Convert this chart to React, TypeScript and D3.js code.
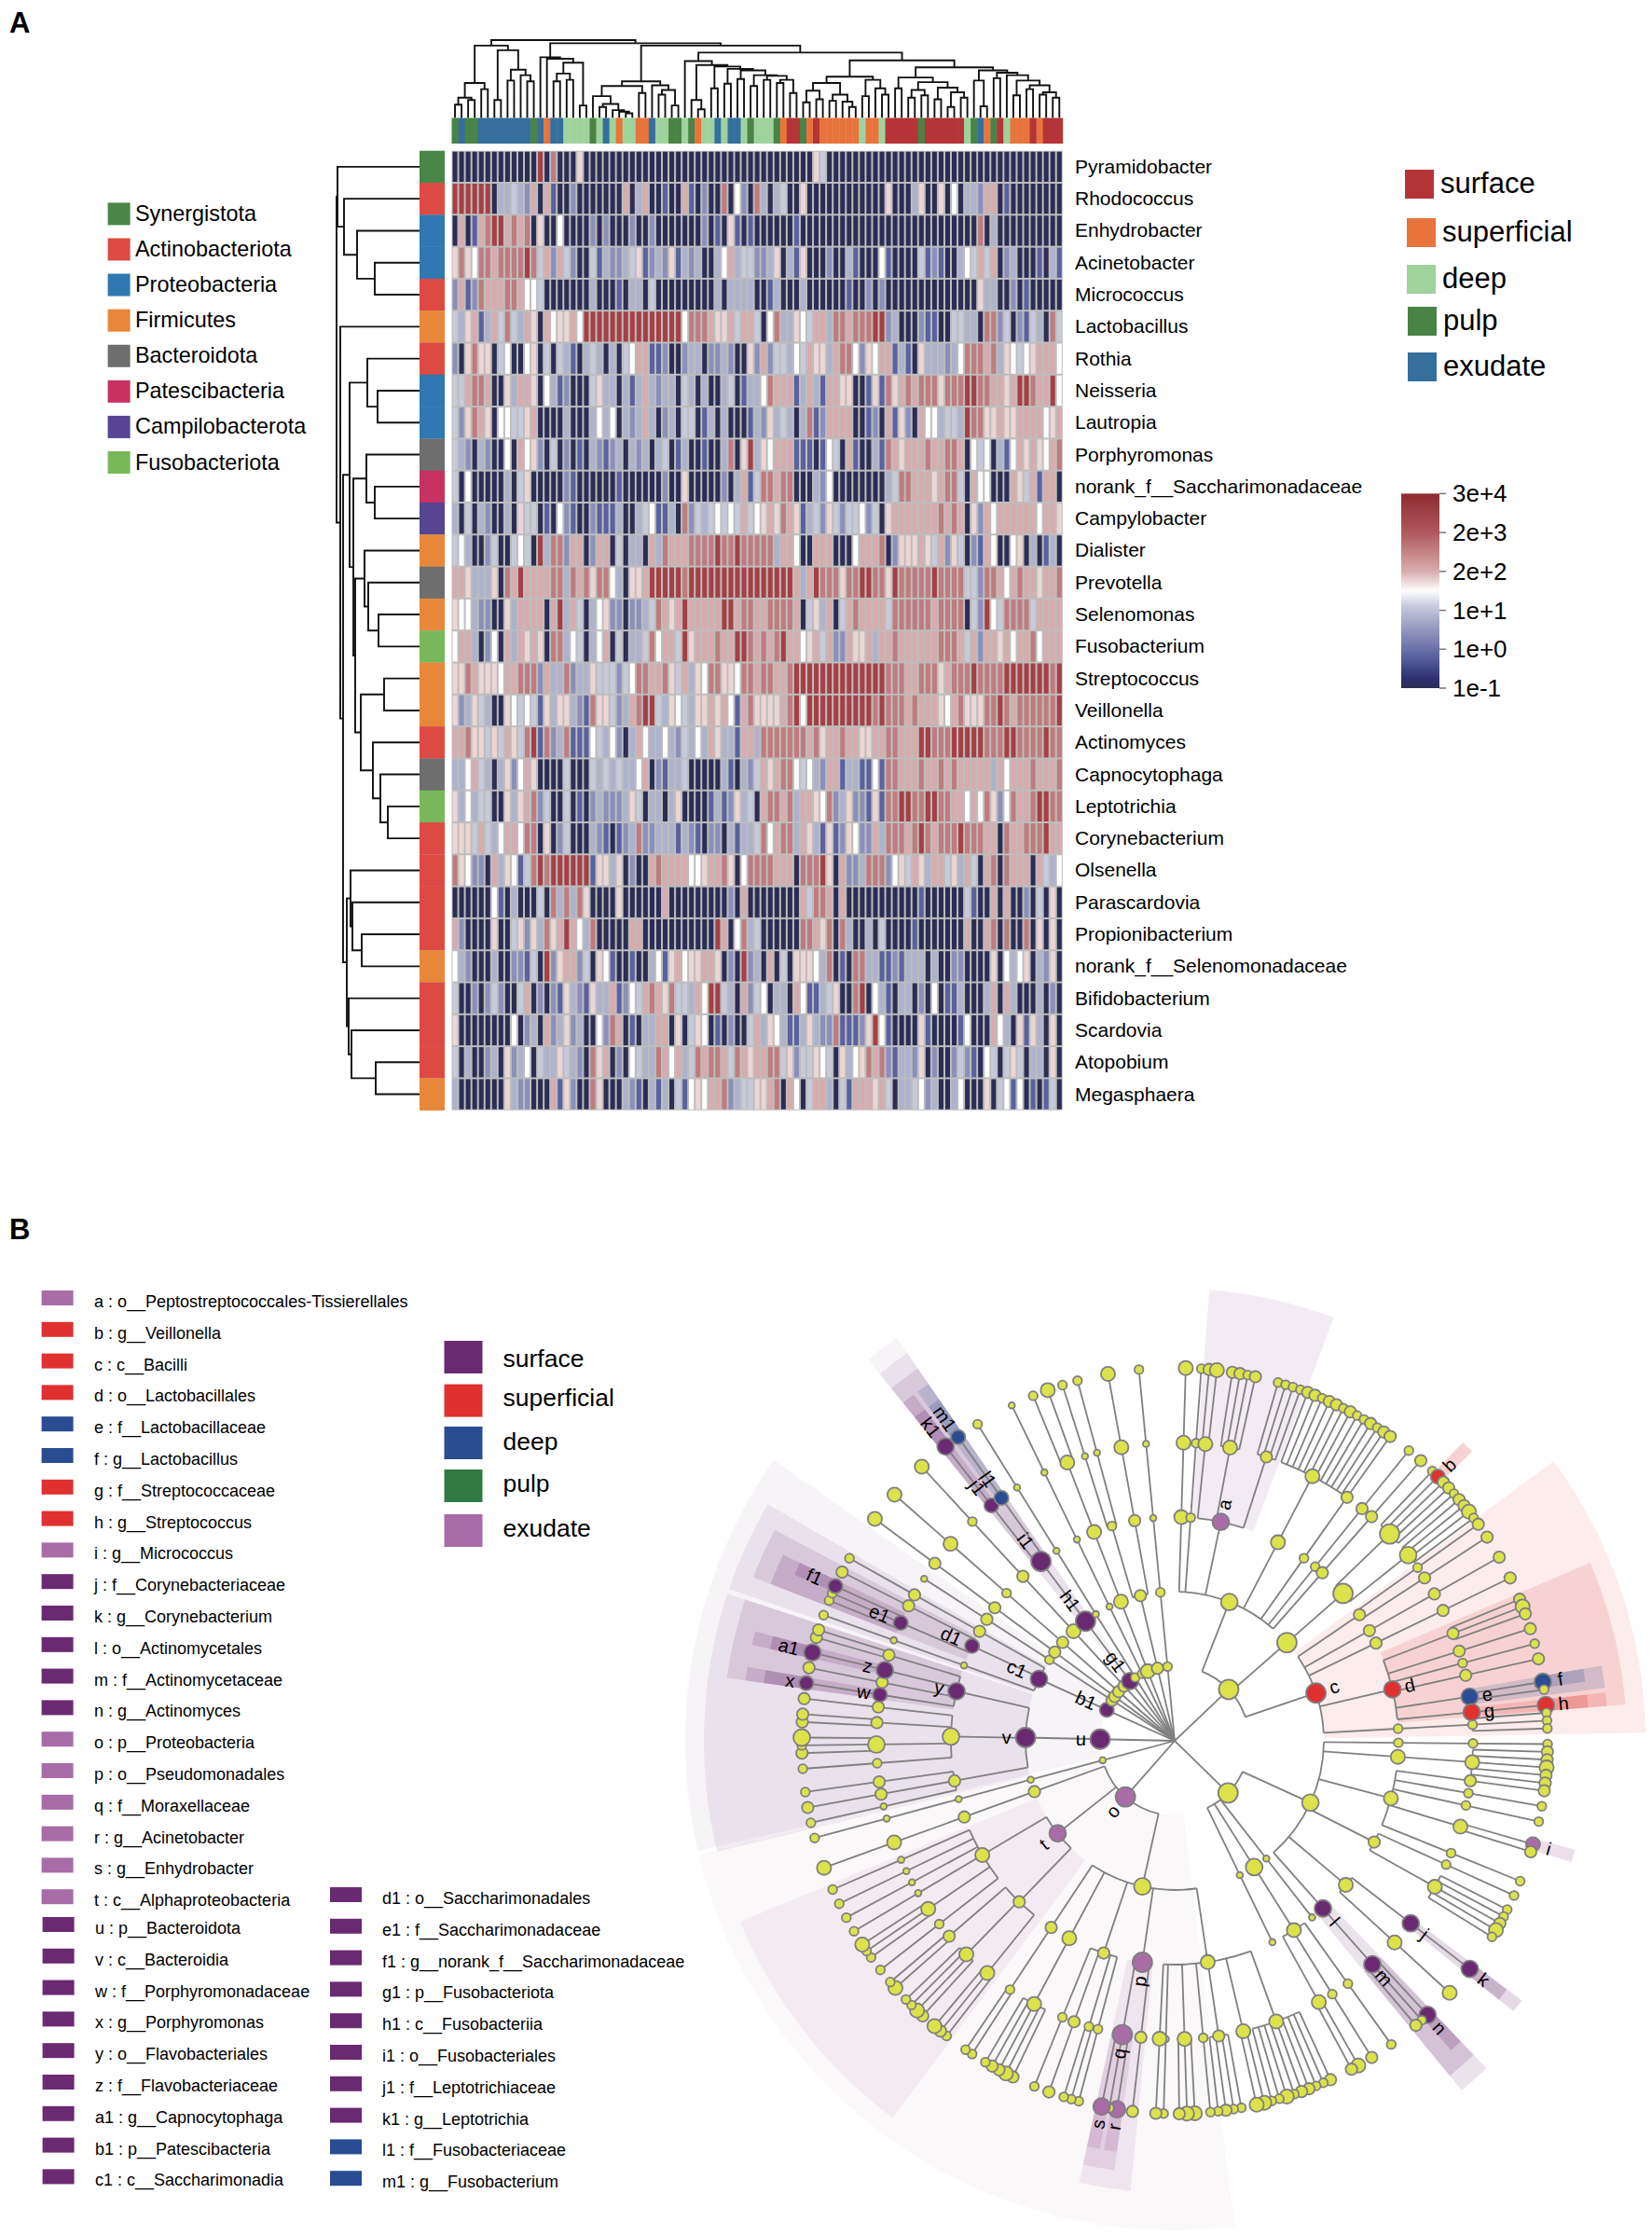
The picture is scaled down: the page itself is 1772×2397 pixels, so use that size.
import { arc, hierarchy, lineRadial, path, pointRadial, scaleBand, scaleLinear } from 'd3';

const FONT = '"Liberation Sans", Arial, sans-serif';

// ---------- panel A: heatmap ----------
const genera = [
  'Pyramidobacter', 'Rhodococcus', 'Enhydrobacter', 'Acinetobacter', 'Micrococcus', 'Lactobacillus', 'Rothia', 'Neisseria',
  'Lautropia', 'Porphyromonas', 'norank_f__Saccharimonadaceae', 'Campylobacter', 'Dialister', 'Prevotella', 'Selenomonas',
  'Fusobacterium', 'Streptococcus', 'Veillonella', 'Actinomyces', 'Capnocytophaga', 'Leptotrichia', 'Corynebacterium',
  'Olsenella', 'Parascardovia', 'Propionibacterium', 'norank_f__Selenomonadaceae', 'Bifidobacterium', 'Scardovia',
  'Atopobium', 'Megasphaera',
];
const phylumNames = ['Synergistota', 'Actinobacteriota', 'Proteobacteria', 'Firmicutes', 'Bacteroidota', 'Patescibacteria', 'Campilobacterota', 'Fusobacteriota'];
const phylumColors = ['#4a8648', '#dd4a44', '#2f78b0', '#e8873a', '#6e6e6e', '#c73262', '#574591', '#78b85a'];
const generaPhylum = [0, 1, 2, 2, 1, 3, 1, 2, 2, 4, 5, 6, 3, 4, 3, 7, 3, 3, 1, 4, 7, 1, 1, 1, 1, 3, 1, 1, 1, 3];

const sampleGroups = ['surface', 'superficial', 'deep', 'pulp', 'exudate'];
const sampleColors: Record<string, string> = { s: '#b53438', f: '#e8743b', d: '#a0d29c', p: '#4a8346', e: '#356f9d' };
const sampleStrip = 'pepp eeeeeeee pefee dddd pdedf dd ff e dd pp dpf dd e d ee d p ddd p f ss p f s ffffff d ff d sssss p ssssss dpefpsd fff s f sss'
  .replace(/ /g, '');

// abundance level of every sample, 0 (1e-1) to 9 (3e+4)
const heatRows = [
  '0000000000 0009080006 0000000000 0000000000 0000000 0000000064 0000000000 0000000000 0000000000 000000',
  '9999990334 3270710020 0000007037 0010071020 0805208 3034006000 0000000006 0003600605 0332770100 000000',
  '0701789978 7806005000 0202000200 2000000020 1061010 0000010000 0000000000 0000000000 0008030000 000000',
  '6865887888 8984727420 0413223461 2326132300 3573442 2360316000 2003100051 0000412100 3547470230 001031',
  '2712877788 7554000000 0300010330 4000000000 3033330 0130003000 0001002020 0000000000 0006330020 100000',
  '4367137484 3760756675 9999999999 9999958887 6674774 0583365477 3887888992 3000211004 4330882402 143084',
  '2068660450 0560404310 3430304577 1120023302 2320062 7244354766 3788526577 1310633323 5888783654 567775',
  '4478870063 7760531200 0463303137 3233043030 0340133 5877713731 7766001618 6787888688 8998877679 987795',
  '4268760554 4670000300 0353503237 3023044013 0300013 2634303812 7777001207 1620755344 3988667667 777567',
  '4320320050 7562040201 0321230323 0340130010 0380693 6577711101 5407100318 7677787788 7054503157 676578',
  '4050000030 4600000210 0000010000 0020060000 0203714 8878800032 5000000003 4887776788 4075500076 471770',
  '3040320030 6440105210 0211130034 5113082434 5454745 6768761342 6424452406 7777777878 7062757777 775776',
  '4530024004 5409388277 0277040330 7387778888 9889888 8837750077 7000577780 2666764726 4021750056 030130',
  '7763336087 9777788387 8688530667 9999989999 9999999 9999973798 8868899886 9888889888 8442887578 776778',
  '6553220063 7777079374 0356220223 4876797777 7997887 7888870463 7047877774 8888887888 8042954888 847777',
  '5773025073 7676088354 0357040334 8577496777 8779987 8789775674 7227667377 8777777888 7472776757 785777',
  '6687666577 8882733823 3644424588 7786473658 8665887 8877899999 9999999998 8877888678 8898888999 999989',
  '6236430065 4541636632 1866423789 9436543667 6751786 6667895999 9999999898 8878777657 8666889878 888889',
  '7786646476 4891823811 1543520375 3353243537 6331773 8888888786 7787766778 8777998889 9999888998 888988',
  '3357430362 5760000400 0434343357 0213340000 0310324 7678854532 7713311518 8777877878 7777737577 787778',
  '6353440063 6782400401 0232223640 3303600001 3126340 7887837765 8236221618 8998899887 7575862587 789988',
  '6664743577 5880602400 0321012382 2333132102 2031334 8578837631 6126522738 8878987888 9888770877 888977',
  '8652207365 1489899999 9166360200 7877775567 7860588 8877708889 6072238882 5647637746 3740780877 707435',
  '0000005103 0004083838 6000060000 0070000000 0020700 0000007488 7070000000 0000100000 0410070700 204060',
  '7200006004 6263867975 3800000770 0000000000 9705834 0000008876 8083003040 0001000000 0700780800 806060',
  '5320003002 2140926772 4065100100 3516756677 6020923 0704066653 8010883311 2133303002 2000060535 603260',
  '4002024200 4702021632 1633712547 8768443759 9430724 5033075113 4600890531 0330205011 3000370730 003020',
  '6000000005 0230723623 0052870103 3770604650 1020047 3653113632 2811126951 0000610000 1500075306 163060',
  '4030023062 3504336432 0867020543 3875734878 8748767 7884624465 4063568782 1332602002 4210540464 033060',
  '3000000063 2200071620 0860003210 3130415657 7823446 6780750477 3041777674 0334523003 5000604515 010140',
].map((row) => row.replace(/ /g, ''));

const levelColors = ['#2b2d55', '#5a619f', '#8a90bb', '#adb2cd', '#c7cada', '#ffffff', '#ecd6d4', '#d8abad', '#c07b7e', '#a63f44'];
const colorbarLabels = ['3e+4', '2e+3', '2e+2', '1e+1', '1e+0', '1e-1'];
const colorbarStops: Array<[number, string]> = [
  [0, '#8e2a30'], [0.2, '#b0585c'], [0.4, '#d8adad'], [0.5, '#ffffff'], [0.58, '#c6c9dc'], [0.72, '#8a90ba'], [0.85, '#565c9c'], [0.95, '#2c2f72'], [1, '#2d2e52'],
];

// merge heights of the two dendrograms, "." is a leaf
const colTree = `(
  (((( . .)17 (. .)23)26 (. .)37)45 ((. .)23 ((. .)48 (. (. .)47)55)62)87)93
  ((. (. (((. .)47 (. .)49)57 (. .)16)71)76)78
   ((((. ((. .)14 (. (. (. .)6)8)10)18)28 (. .)32)41 (. ((. .)30 (. .)16)36)42)47
    ((. ((. (. .)11)23 ((. .)38 ((. .)44 ((. .)50 ((. .)41 ((. .)49 ((. .)45 (. .)32)49)54)55)61)63)66)68)73
     (((((. .)20 (. .)24)35 ((. .)22 (. (. .)14)21)30)45 ((. .)28 (. (. .)30)38)49)53
      (((. .)38 (((. .)26 (. .)29)36 ((. .)24 ((. .)14 (. .)26)33)39)46)52
       ((. (. .)15)48 ((. .)51 (. ((. .)29 ((. .)37 ((. .)30 (. .)26)33)42)48)55)58)61)65)74)84)93)96)100`;
const rowTree = `(
  (. (. (. (. .)48)67)81)88
  (. (((. (. .)45)56 ((. (. .)48)57 ((. (. (. .)44)55)59 ((. .)38 (. (. (. .)34)42)50)63)69)71)75
      ((. (. (. .)62)72)74 (. (. (. .)47)73)76)78)82)85)89`;

// ---------- panel B: cladogram ----------
const cladeLetters = ['a', 'b', 'c', 'd', 'e', 'f', 'g', 'h', 'i', 'j', 'k', 'l', 'm', 'n', 'o', 'p', 'q', 'r', 's', 't', 'u', 'v', 'w', 'x', 'y', 'z', 'a1', 'b1', 'c1', 'd1', 'e1', 'f1', 'g1', 'h1', 'i1', 'j1', 'k1', 'l1', 'm1'];
const cladeTaxa = [
  'o__Peptostreptococcales-Tissierellales', 'g__Veillonella', 'c__Bacilli', 'o__Lactobacillales', 'f__Lactobacillaceae', 'g__Lactobacillus',
  'f__Streptococcaceae', 'g__Streptococcus', 'g__Micrococcus', 'f__Corynebacteriaceae', 'g__Corynebacterium', 'o__Actinomycetales',
  'f__Actinomycetaceae', 'g__Actinomyces', 'p__Proteobacteria', 'o__Pseudomonadales', 'f__Moraxellaceae', 'g__Acinetobacter', 'g__Enhydrobacter',
  'c__Alphaproteobacteria', 'p__Bacteroidota', 'c__Bacteroidia', 'f__Porphyromonadaceae', 'g__Porphyromonas', 'o__Flavobacteriales',
  'f__Flavobacteriaceae', 'g__Capnocytophaga', 'p__Patescibacteria', 'c__Saccharimonadia', 'o__Saccharimonadales', 'f__Saccharimonadaceae',
  'g__norank_f__Saccharimonadaceae', 'p__Fusobacteriota', 'c__Fusobacteriia', 'o__Fusobacteriales', 'f__Leptotrichiaceae', 'g__Leptotrichia',
  'f__Fusobacteriaceae', 'g__Fusobacterium',
];
const cladeGroups = ('ebbbddbbessssseeeeee' + 'sssssssssssssssss' + 'dd').split('');
const cladeGroupColors: Record<string, string> = { s: '#6a2a72', b: '#e03030', d: '#2a4c92', p: '#2f7a44', e: '#a86ca6' };
const cladeGroupOrder = ['s', 'b', 'd', 'p', 'e'];

// one branch per phylum, clockwise from the top; digit = node size, _n = n empty slots
const phylumBranches = [
  `(( ((4)4)4 _1 ((2)2)2 ((3 4)4 _1 (3 3 2 3)4 _2 (2 2 2 2)3)5#a ((3 3 2 3 3 2 3 2 2 3 2 3)4)4 ((3)3)2 _2 ((2)3)2 _1 ((3)3)3 )5
    _1 (((2 4#b 3 3 2)6 (3 3 4 2)5)6)6
    ( ((3)2 _1 (3)3)3 _2 ((3)3)3 _2 ((3)3)3 _2 ((3 4 3)3 _1 (3)3 _1 (2)2 _1 (3)3 _2 (5#f 2)5#e _1 (5#h)5#g)5#d ((2 2 2)2)2 )6#c )6`,
  `_1 (( ((2)2)2 ((3 3 4 3 3)4)4 ((3)3 _1 (2)2 _1 (2)2 _2 (4#i 3)4 _3 (2)2)4 _1 ((2)2 _1 (2 2 3 4 2)4)3 _4 ((5#k)5#j _3 (4)4)4 _3 ((5#n 2 3)5#m)5#l )5
    _1 (1)1 _1 (((2)2 _2 (3)2 _1 (4 3)4)4)5 _1 (1)1 )6`,
  `(( ((3 2 2 3 3 2 4 2 2)4 (4 4)4 _1 (2 2 3 2)3 (2)2 _1 (4 4 3)4 _1 (2)1 (3)4)4 _2 ((3)3 _1 (5#r 2 5#s)6#q)6#p _2 ((2)2 (2 2)2 _1 (3)3 _1 (2)2)3 _2 ((3 4 3 3 2)4)4 _1 ((2 2)2)3 )5
    _2 ( ((2 3 4)4 _1 (3 4 2 2)4 _1 (4 2)3)3 _1 ((2)2 _1 (2 2 4)4 _1 (2)1 _1 (2)1 _1 (2)1 _1 (2)1)4 )5#t
    _2 (((4)4)3)3 )6#o`,
  `_3 ((((2)1)1)1)1`,
  `_1 (( ((2)1 _1 (3)3 _1 (2)3)3 _2 ((2)2 _1 (3 2 5)5 _1 (3 3)3 _1 (3)3)5 _1 ((4#x)4#w _1 (3)3 _1 (5#a1)5#z _1 (3 3)3)5#y )6#v)6#u`,
  `_1 (( ((2)1)1 _1 ((2 2 4#f1)4#e1 _1 (3)3)4#d1 _1 ((2)3)3 )5#c1)4#b1`,
  `_2 (((1)3)2)3`,
  `_2 ((((4)3)3)3)3`,
  `_3 ((((4)4)2)3)3`,
  `_4 ((((4)2)3)4)3`,
  `_3 ((((5#k1)4#j1 _1 (4#m1)4#l1)6#i1)6#h1)5#g1`,
  `_2 ((((2)1)1)1)2`,
  `_4 ((((1)1)1)1)2`,
  `_2 ((((2 _1 4)4)4)4)4`,
  `_1 ((((2)1 _1 (2)1)2 _3 ((4)4)3)3)3`,
  `_3 ((((2)1)1)2)2`,
];
const SLOT_COUNT = 300;
// the three phylum bands do not follow their leaves exactly in the original
const phylumBandDegrees: Record<string, [number, number]> = { o: [173, 256.5], u: [257, 271], b1: [271, 305] };

type TreeDatum = { children?: TreeDatum[]; clade?: string; slot: number; value: number };

function parseTree(source: string): TreeDatum {
  const tokens = source.match(/\(|\)\d+(?:#\w+)?|_\d+|\d+(?:#\w+)?|\./g) ?? [];
  const stack: TreeDatum[] = [{ children: [], slot: 0, value: 0 }];
  let slot = 0;
  for (const token of tokens) {
    const top = stack[stack.length - 1];
    if (token === '(') {
      const node: TreeDatum = { children: [], slot: 0, value: 0 };
      top.children!.push(node);
      stack.push(node);
    } else if (token[0] === ')') {
      const [value, clade] = token.slice(1).split('#');
      top.value = +value;
      top.clade = clade;
      stack.pop();
    } else if (token[0] === '_') {
      slot += +token.slice(1);
    } else {
      const [value, clade] = token.split('#');
      top.children!.push({ clade, slot, value: token === '.' ? 0 : +value });
      slot += 1;
    }
  }
  return stack[0].children![0];
}

function dendrogramPath(source: string, leafScale: (index: number) => number, heightScale: (h: number) => number, horizontal: boolean) {
  const root = hierarchy(parseTree(source));
  const place = new Map<unknown, number>();
  root.eachAfter((node) => {
    if (!node.children) {
      place.set(node, leafScale(node.data.slot));
    } else {
      place.set(node, (place.get(node.children[0])! + place.get(node.children[1])!) / 2);
    }
  });
  const drawn = path();
  const point = (along: number, height: number): [number, number] => (horizontal ? [along, height] : [height, along]);
  root.each((node) => {
    if (!node.children) return;
    const [left, right] = node.children;
    const level = heightScale(node.data.value);
    drawn.moveTo(...point(place.get(left)!, heightScale(left.data.value)));
    drawn.lineTo(...point(place.get(left)!, level));
    drawn.lineTo(...point(place.get(right)!, level));
    drawn.lineTo(...point(place.get(right)!, heightScale(right.data.value)));
  });
  return drawn.toString();
}

const HEAT = { left: 484.5, right: 1139.8, top: 161.7, bottom: 1190.7 };
const colScale = scaleBand<number>().domain(heatRows[0].split('').map((_, i) => i)).range([HEAT.left, HEAT.right]);
const rowScale = scaleBand<number>().domain(genera.map((_, i) => i)).range([HEAT.top, HEAT.bottom]);
const levelColor = scaleLinear<string>().domain(levelColors.map((_, i) => i)).range(levelColors);
const colDendroY = scaleLinear().domain([0, 100]).range([126.5, 43]);
const rowDendroX = scaleLinear().domain([0, 100]).range([450, 350]);
const colBarY = { top: 126.5, height: 27.5 };

const colDendroPath = dendrogramPath(colTree, (i) => colScale(i)! + colScale.bandwidth() / 2, (h) => colDendroY(h), true);
const rowDendroPath = dendrogramPath(rowTree, (i) => rowScale(i)! + rowScale.bandwidth() / 2, (h) => rowDendroX(h), false);

const colorbarY = scaleLinear().domain([0, colorbarLabels.length - 1]).range([529.4, 738]);

// cladogram layout
const CENTER = { x: 1260, y: 1867 };
const cladeRoot = hierarchy(parseTree(`(${phylumBranches.join(' ')})0`));
const toRadians = (degrees: number) => (degrees * Math.PI) / 180;
const slotAngle = scaleLinear().domain([0, SLOT_COUNT]).range([toRadians(1.7), toRadians(361.7)]);
const depthRadius = scaleLinear().domain([0, 5]).range([0, 400]);
const wedgeOuter = scaleLinear().domain([1, 5]).range([525, 445]);
const wedgeOpacity = scaleLinear().domain([1, 5]).range([0.05, 0.22]);
const nodeRadius = scaleLinear().domain([1, 2, 3, 4, 5, 6]).range([3.4, 4.8, 6.2, 7.6, 9, 10.5]);
const SLOT_WIDTH = slotAngle(1) - slotAngle(0);

const angles = new Map<unknown, number>();
const spans = new Map<unknown, [number, number]>();
cladeRoot.eachAfter((node) => {
  if (!node.children) {
    angles.set(node, slotAngle(node.data.slot));
    spans.set(node, [slotAngle(node.data.slot), slotAngle(node.data.slot)]);
  } else {
    const first = node.children[0];
    const last = node.children[node.children.length - 1];
    angles.set(node, (angles.get(first)! + angles.get(last)!) / 2);
    spans.set(node, [spans.get(first)![0], spans.get(last)![1]]);
  }
});
const cladeNodes = cladeRoot.descendants().filter((node) => node.depth > 0);
const markedNodes = cladeNodes.filter((node) => node.data.clade);
const radialLink = lineRadial<[number, number]>().angle((d) => d[0]).radius((d) => d[1]);
const groupOf = (clade: string) => cladeGroups[cladeLetters.indexOf(clade)];

function wedgeAngles(node: (typeof cladeNodes)[number]) {
  const band = phylumBandDegrees[node.data.clade!];
  if (band) return { startAngle: toRadians(band[0]), endAngle: toRadians(band[1]) };
  const [start, end] = spans.get(node)!;
  return { startAngle: start - SLOT_WIDTH * 0.75, endAngle: end + SLOT_WIDTH * 0.75 };
}

const legendBlocks = [
  { start: 0, count: 20, swatchX: 44.6, textX: 101, y: 1392 },
  { start: 20, count: 9, swatchX: 45.6, textX: 102, y: 2064 },
  { start: 29, count: 10, swatchX: 354, textX: 410, y: 2032 },
];

const heatLegendPlace = [[1507, 182], [1509, 234], [1509, 284], [1510, 329], [1510, 378]];
const phylumLegendY = scaleLinear().domain([0, 7]).range([229.4, 496]);
const cladeLegendTop = [1438, 1484.6, 1530, 1576, 1624];
const cladeLegendBaseline = [1466, 1508, 1555, 1600, 1648];

export default function App() {
  return (
    <svg
      width={1772}
      height={2397}
      viewBox="0 0 1772 2397"
      style={{ position: 'absolute', left: 0, top: 0, background: '#fff', fontFamily: FONT }}
    >
      <defs>
        <linearGradient id="colorbar" x1="0" x2="0" y1="0" y2="1">
          {colorbarStops.map(([offset, color]) => (
            <stop key={offset} offset={offset} stopColor={color} />
          ))}
        </linearGradient>
      </defs>

      <text x={10} y={35} fontSize={31} fontWeight="bold">A</text>
      <text x={10} y={1329} fontSize={31} fontWeight="bold">B</text>

      {/* heatmap */}
      <path d={colDendroPath} fill="none" stroke="#111" strokeWidth={1.9} />
      <path d={rowDendroPath} fill="none" stroke="#111" strokeWidth={1.9} />
      {sampleStrip.split('').map((group, i) => (
        <rect key={i} x={colScale(i)} y={colBarY.top} width={colScale.bandwidth() + 0.4} height={colBarY.height} fill={sampleColors[group]} />
      ))}
      {genera.map((name, i) => (
        <rect key={name} x={450} y={rowScale(i)} width={27} height={rowScale.bandwidth() + 0.3} fill={phylumColors[generaPhylum[i]]} />
      ))}
      <rect x={HEAT.left} y={HEAT.top} width={HEAT.right - HEAT.left} height={HEAT.bottom - HEAT.top} fill="#bdbdbd" />
      {heatRows.map((row, r) =>
        row.split('').map((level, c) => (
          <rect
            key={`${r}-${c}`}
            x={colScale(c)! + 1}
            y={rowScale(r)! + 1}
            width={colScale.bandwidth() - 2}
            height={rowScale.bandwidth() - 2}
            fill={levelColor(+level)}
          />
        )),
      )}
      {genera.map((name, i) => (
        <text key={name} x={1153} y={rowScale(i)! + rowScale.bandwidth() / 2 + 7} fontSize={21}>{name}</text>
      ))}

      {phylumNames.map((name, i) => (
        <g key={name}>
          <rect x={115.6} y={phylumLegendY(i) - 12} width={24} height={24} fill={phylumColors[i]} />
          <text x={145} y={phylumLegendY(i) + 7.5} fontSize={23.4}>{name}</text>
        </g>
      ))}
      {sampleGroups.map((name, i) => (
        <g key={name}>
          <rect x={heatLegendPlace[i][0]} y={heatLegendPlace[i][1]} width={31} height={31} fill={sampleColors[name === 'superficial' ? 'f' : name[0]]} />
          <text x={heatLegendPlace[i][0] + 38} y={heatLegendPlace[i][1] + 25} fontSize={31}>{name}</text>
        </g>
      ))}
      <rect x={1503} y={colorbarY(0)} width={41} height={colorbarY(5) - colorbarY(0)} fill="url(#colorbar)" />
      {colorbarLabels.map((label, i) => (
        <g key={label}>
          <line x1={1544} x2={1551} y1={colorbarY(i)} y2={colorbarY(i)} stroke="#777" strokeWidth={1.5} />
          <text x={1558} y={colorbarY(i) + 9} fontSize={26}>{label}</text>
        </g>
      ))}

      {/* clade legend */}
      {legendBlocks.map((block) =>
        cladeLetters.slice(block.start, block.start + block.count).map((letter, i) => (
          <g key={letter}>
            <rect x={block.swatchX} y={block.y + i * 33.8 - 8} width={34} height={16} fill={cladeGroupColors[groupOf(letter)]} />
            <text x={block.textX} y={block.y + i * 33.8 + 10} fontSize={18}>{`${letter} : ${cladeTaxa[block.start + i]}`}</text>
          </g>
        )),
      )}
      {sampleGroups.map((name, i) => (
        <g key={name}>
          <rect x={476.5} y={cladeLegendTop[i]} width={41} height={35} fill={cladeGroupColors[cladeGroupOrder[i]]} />
          <text x={539.5} y={cladeLegendBaseline[i]} fontSize={26.5}>{name}</text>
        </g>
      ))}

      {/* cladogram */}
      <g transform={`translate(${CENTER.x},${CENTER.y})`}>
        {markedNodes.map((node) => (
          <path
            key={node.data.clade}
            d={arc()({
              innerRadius: depthRadius(node.depth),
              outerRadius: wedgeOuter(node.depth),
              ...wedgeAngles(node),
            })!}
            fill={cladeGroupColors[groupOf(node.data.clade!)]}
            fillOpacity={wedgeOpacity(node.depth)}
          />
        ))}
        <g fill="none" stroke="#808080" strokeWidth={1.8}>
          {cladeNodes.map((node, i) => (
            <path
              key={i}
              d={radialLink([
                [angles.get(node)!, depthRadius(node.depth - 1)],
                [angles.get(node)!, depthRadius(node.depth)],
              ])!}
            />
          ))}
          {cladeNodes
            .filter((node) => node.children && node.children.length > 1)
            .map((node, i) => (
              <path
                key={i}
                d={arc()({
                  innerRadius: depthRadius(node.depth),
                  outerRadius: depthRadius(node.depth),
                  startAngle: angles.get(node.children![0])!,
                  endAngle: angles.get(node.children![node.children!.length - 1])!,
                })!}
              />
            ))}
        </g>
        {cladeNodes.map((node, i) => {
          const [x, y] = pointRadial(angles.get(node)!, depthRadius(node.depth));
          return (
            <circle
              key={i}
              cx={x}
              cy={y}
              r={nodeRadius(node.data.value)}
              fill={node.data.clade ? cladeGroupColors[groupOf(node.data.clade)] : '#dbe24a'}
              stroke="#7f7f7f"
              strokeWidth={1.8}
            />
          );
        })}
        {markedNodes.map((node) => {
          const angle = angles.get(node)!;
          const degrees = (angle * 180) / Math.PI;
          const offset = nodeRadius(node.data.value) + (node.data.clade!.length > 1 ? 17 : 10);
          const [x, y] = pointRadial(angle, depthRadius(node.depth) + offset);
          const rotation = degrees < 180 ? degrees - 90 : degrees + 90;
          return (
            <text
              key={node.data.clade}
              transform={`translate(${x},${y}) rotate(${rotation})`}
              textAnchor="middle"
              dominantBaseline="central"
              fontSize={20}
            >
              {node.data.clade}
            </text>
          );
        })}
      </g>
    </svg>
  );
}
